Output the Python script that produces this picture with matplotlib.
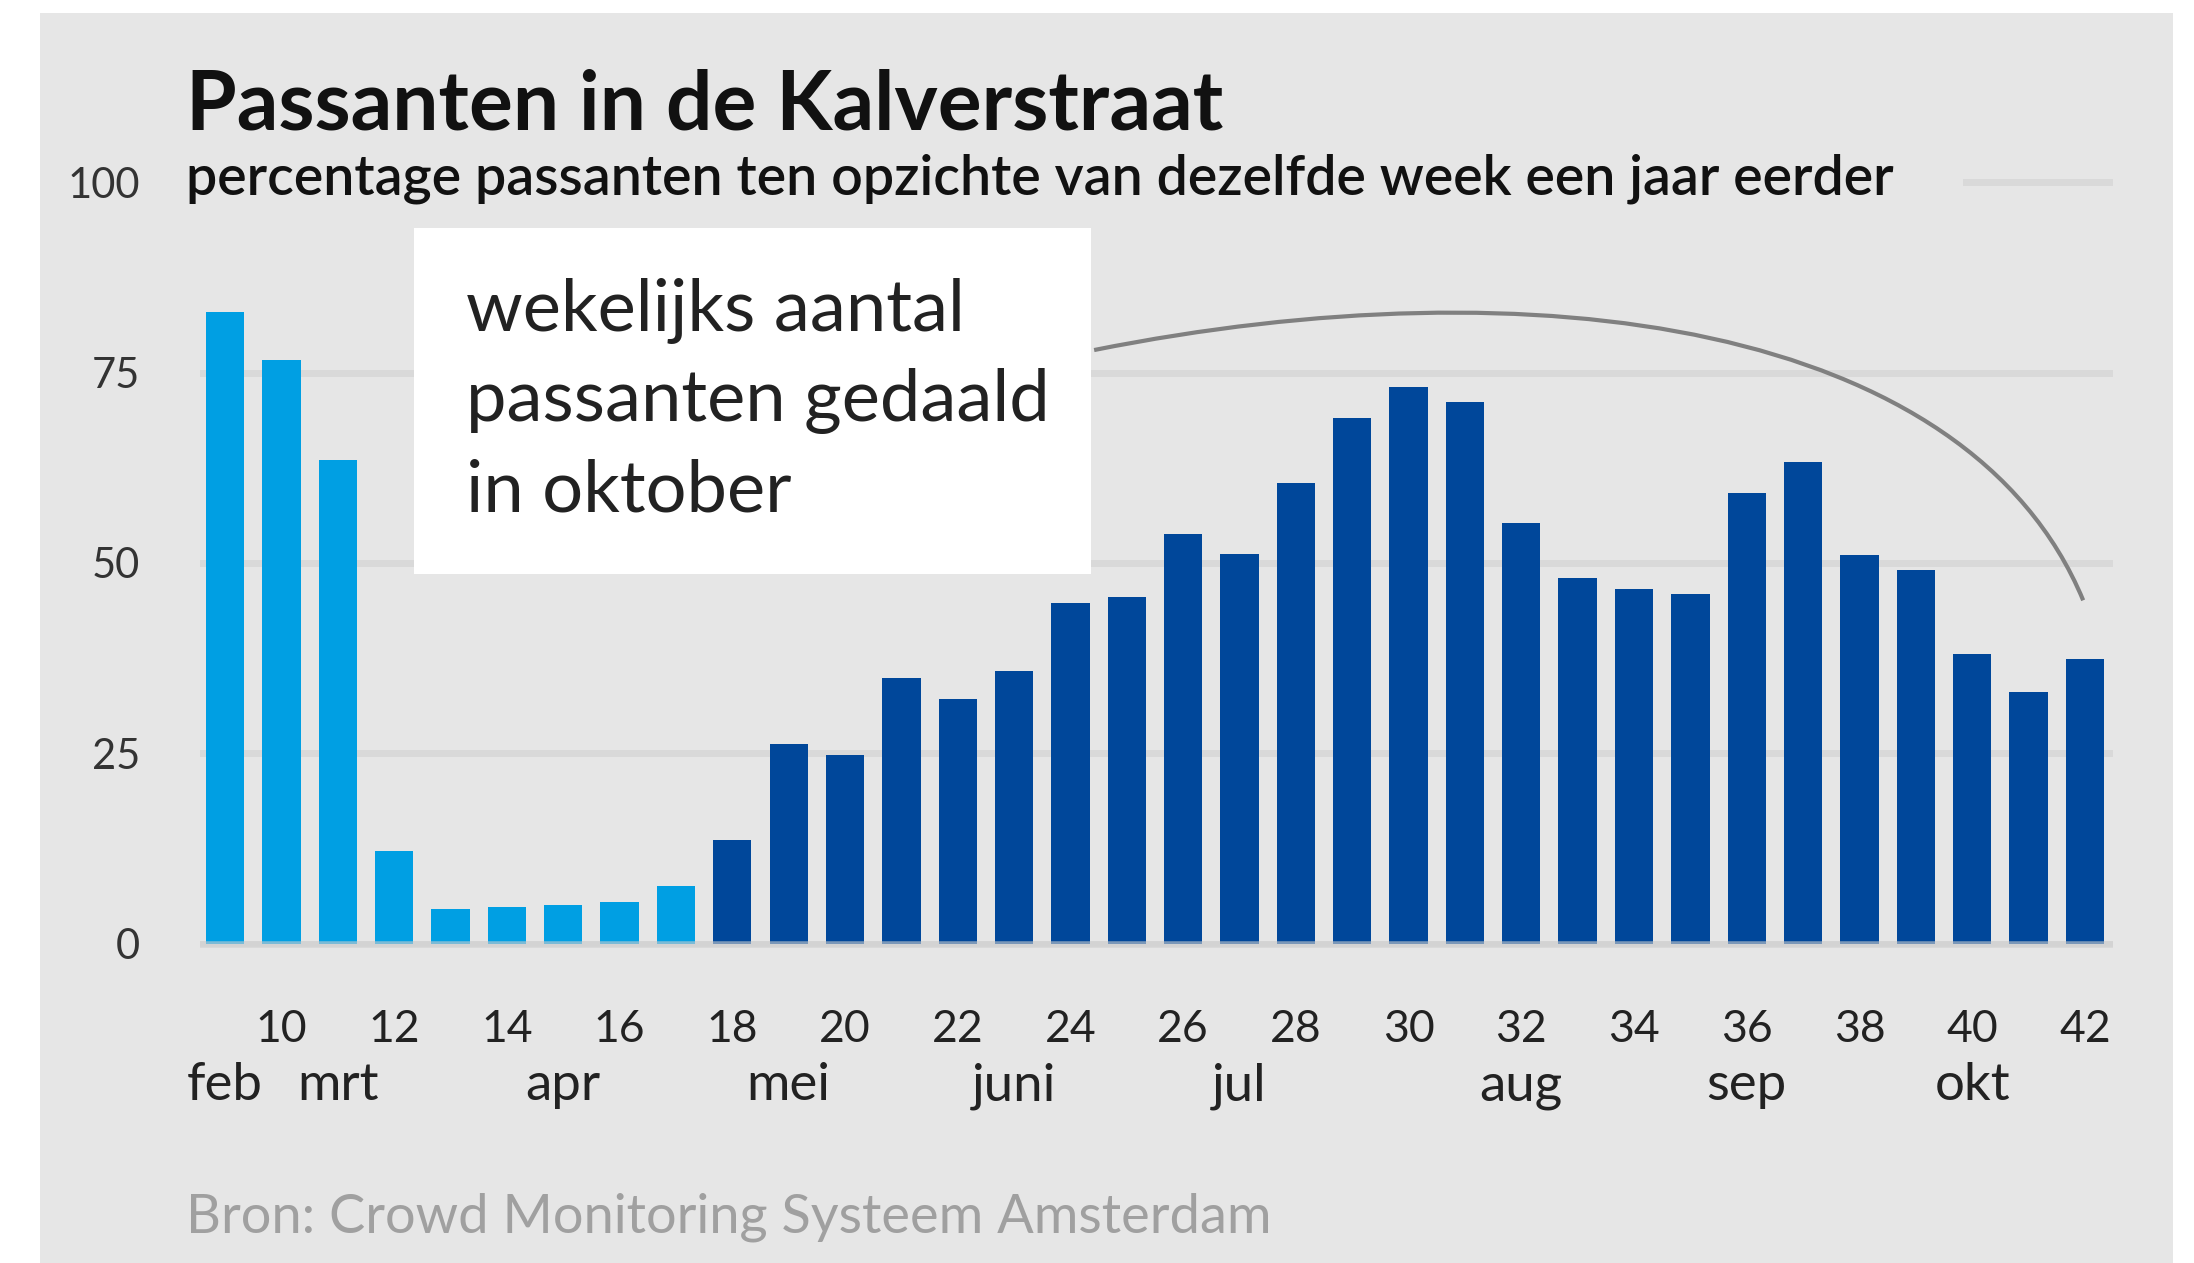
import numpy as np
import matplotlib.pyplot as plt
from matplotlib.patches import Rectangle, PathPatch
from matplotlib.path import Path

plt.rcParams['font.family'] = ['Lato', 'DejaVu Sans']

# weekly share of passers-by vs same week a year earlier (%)
weeks = list(range(9, 43))
values = [83.0, 76.7, 63.5, 12.2, 4.6, 4.9, 5.1, 5.5, 7.6,
          13.7, 26.2, 24.8, 34.9, 32.1, 35.8, 44.8, 45.6, 53.8, 51.2,
          60.5, 69.0, 73.1, 71.1, 55.3, 48.0, 46.6, 45.9, 59.2, 63.2,
          51.1, 49.1, 38.0, 33.1, 37.4]
split_week = 18  # from here on the darker colour

tick_weeks = list(range(10, 43, 2))
month_labels = ['feb', 'mrt', 'apr', 'mei', 'juni', 'jul', 'aug', 'sep', 'okt']
month_weeks = [9, 11, 15, 19, 23, 27, 32, 36, 40]
y_ticks = [0, 25, 50, 75, 100]

light_blue = '#009fe3'
dark_blue = '#00479a'
bg = '#e6e6e6'
grid_col = '#d9d9d9'

fig = plt.figure(figsize=(21.94, 12.63), dpi=100)
fig.patch.set_facecolor('white')
fig.patches.append(Rectangle((40 / 2194, 0), 2133 / 2194, 1 - 13 / 1263,
                             transform=fig.transFigure, facecolor=bg,
                             edgecolor='none', zorder=-1))

ax = fig.add_axes([0.0912, 0.2454, 0.8719, 0.6195])
ax.set_facecolor('none')

colors = [light_blue if w < split_week else dark_blue for w in weeks]
ax.bar(weeks, values, width=0.68, color=colors, zorder=2)

for y in y_ticks[:-1]:
    ax.axhline(y, color=grid_col, lw=5, zorder=1)
# top line only shows right of the subtitle
ax.axhline(y_ticks[-1], xmin=0.923, color=grid_col, lw=5, zorder=1)
ax.axhline(0, color='#cfcfcf', lw=4, alpha=0.6, zorder=3)

ax.set_xlim(8.556, 42.5)
ax.set_ylim(-1.2, 101.5)

ax.set_yticks(y_ticks)
ax.set_yticklabels([str(v) for v in y_ticks])
ax.tick_params(axis='y', length=0, pad=43, labelsize=30, labelcolor='#333333')
ax.set_xticks(tick_weeks)
ax.set_xticklabels([str(w) for w in tick_weeks])
ax.tick_params(axis='x', length=0, pad=40, labelsize=32, labelcolor='#222222')
for s in ax.spines.values():
    s.set_visible(False)

for w, m in zip(month_weeks, month_labels):
    ax.text(w, -0.188, m, transform=ax.get_xaxis_transform(), ha='center',
            va='baseline', fontsize=38, color='#222222')

# curved line from the note towards the last weeks
curve = Path([(24.42, 77.95), (32.24, 89.5), (39.93, 81.5), (41.97, 45.1)],
             [Path.MOVETO, Path.CURVE4, Path.CURVE4, Path.CURVE4])
ax.add_patch(PathPatch(curve, fill=False, edgecolor='#808080', lw=3,
                       zorder=4, capstyle='butt'))

# white note box
ax.add_patch(Rectangle((414 / 2194, 1 - 574 / 1263), 677 / 2194, 346 / 1263,
                       transform=fig.transFigure, facecolor='white',
                       edgecolor='none', zorder=5, clip_on=False))
fig.text(466 / 2194, 1 - 278 / 1263,
         'wekelijks aantal\npassanten gedaald\nin oktober',
         fontsize=52, va='top', ha='left', linespacing=1.46, color='#222222',
         zorder=6)

fig.text(186 / 2194, 1 - 130 / 1263, 'Passanten in de Kalverstraat',
         fontsize=59, fontweight='bold', va='baseline', color='#111111')
fig.text(186 / 2194, 1 - 195 / 1263,
         'percentage passanten ten opzichte van dezelfde week een jaar eerder',
         fontsize=40, fontweight='semibold', va='baseline', color='#111111')
fig.text(186 / 2194, 1 - 1232 / 1263, 'Bron: Crowd Monitoring Systeem Amsterdam',
         fontsize=39, va='baseline', color='#a0a0a0')

fig.savefig('out.png', dpi=100)
